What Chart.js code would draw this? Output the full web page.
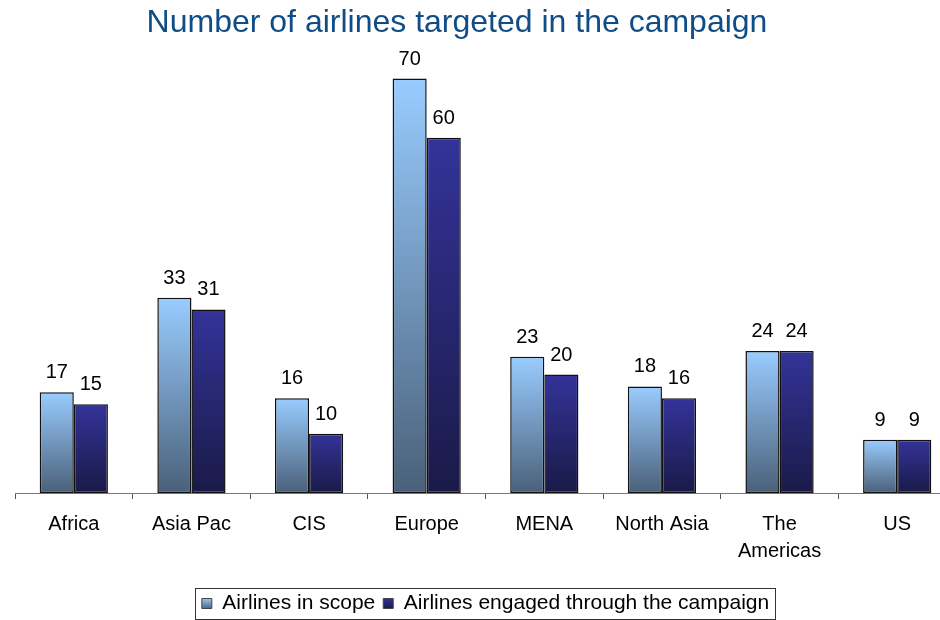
<!DOCTYPE html>
<html>
<head>
<meta charset="utf-8">
<script src="https://cdn.jsdelivr.net/npm/chart.js@4.4.1/dist/chart.umd.min.js"></script>
<style>
  html, body { margin: 0; padding: 0; background: #fff; overflow: hidden; }
  #wrap { width: 960px; height: 620px; }
</style>
</head>
<body>
<div id="wrap"><canvas id="airlinesChart" width="960" height="620"></canvas></div>
<script>
// --- Data ---
const regions = ['Africa', 'Asia Pac', 'CIS', 'Europe', 'MENA', 'North Asia', ['The', 'Americas'], 'US'];
const inScope = [17, 33, 16, 70, 23, 18, 24, 9];
const engaged = [15, 31, 10, 60, 20, 16, 24, 9];
const seriesNames = ['Airlines in scope', 'Airlines engaged through the campaign'];
const chartTitle = 'Number of airlines targeted in the campaign';

const FONT = '"Liberation Sans", Arial, sans-serif';
const seriesColors = [['#99CCFF', '#4A6079'], ['#333399', '#1A1A48']];

// per-bar vertical gradient (top colour -> bottom colour)
function barGradient(top, bottom) {
    return function(ctx) {
        const chart = ctx.chart;
        const area = chart.chartArea;
        const y = chart.scales && chart.scales.y;
        if (!area || !y || ctx.raw === undefined) return top;
        const yTop = y.getPixelForValue(ctx.raw);
        const g = chart.ctx.createLinearGradient(0, yTop, 0, area.bottom);
        g.addColorStop(0, top);
        g.addColorStop(1, bottom);
        return g;
    };
}

// heading, drawn in the space kept free by layout.padding.top
const heading = {
    id: 'heading',
    afterDraw(chart) {
        const ctx = chart.ctx;
        ctx.save();
        ctx.font = '32px ' + FONT;
        ctx.fillStyle = '#104C86';
        ctx.textAlign = 'center';
        ctx.textBaseline = 'middle';
        ctx.fillText(chartTitle, 457, 23);
        ctx.restore();
    }
};

// value labels above each bar
const valueLabels = {
    id: 'valueLabels',
    afterDatasetsDraw(chart) {
        const ctx = chart.ctx;
        ctx.save();
        ctx.font = '20px ' + FONT;
        ctx.fillStyle = '#000';
        ctx.textAlign = 'center';
        ctx.textBaseline = 'alphabetic';
        chart.data.datasets.forEach((ds, i) => {
            chart.getDatasetMeta(i).data.forEach((bar, j) => {
                ctx.fillText(String(ds.data[j]), bar.x, bar.y - 14);
            });
        });
        ctx.restore();
    }
};

// thin frame round the legend
const legendFrame = {
    id: 'legendFrame',
    afterDraw(chart) {
        const boxes = chart.legend && chart.legend.legendHitBoxes;
        if (!boxes || !boxes.length) return;
        const first = boxes[0], last = boxes[boxes.length - 1];
        const left = first.left - 7;
        const right = last.left + last.width + 6;
        const top = first.top - 5;
        const bottom = first.top + first.height + 5;
        const ctx = chart.ctx;
        ctx.save();
        ctx.strokeStyle = '#333';
        ctx.lineWidth = 1;
        ctx.strokeRect(Math.round(left) + 0.5, Math.round(top) + 0.5, Math.round(right - left), Math.round(bottom - top));
        ctx.restore();
    }
};

// small gradient swatch for the legend boxes
function swatch(chart, colors) {
    const g = chart.ctx.createLinearGradient(0, 598, 0, 609);
    g.addColorStop(0, colors[0]);
    g.addColorStop(1, colors[1]);
    return g;
}

new Chart(document.getElementById('airlinesChart'), {
    type: 'bar',
    data: {
        labels: regions,
        datasets: [
            {
                label: seriesNames[0],
                data: inScope,
                backgroundColor: barGradient(seriesColors[0][0], seriesColors[0][1]),
                borderColor: '#111',
                borderWidth: 1.5,
                borderSkipped: false
            },
            {
                label: seriesNames[1],
                data: engaged,
                backgroundColor: barGradient(seriesColors[1][0], seriesColors[1][1]),
                borderColor: '#111',
                borderWidth: 1.5,
                borderSkipped: false
            }
        ]
    },
    options: {
        responsive: false,
        animation: false,
        layout: { padding: { left: 15, right: 4, top: 49, bottom: -4 } },
        datasets: { bar: { barPercentage: 1, categoryPercentage: 0.58 } },
        plugins: {
            title: { display: false },
            legend: {
                position: 'bottom',
                labels: {
                    color: '#000',
                    font: { family: FONT, size: 21 },
                    boxWidth: 10,
                    boxHeight: 10,
                    padding: 8,
                    generateLabels: chart => chart.data.datasets.map((ds, i) => ({
                        text: ds.label,
                        fillStyle: swatch(chart, seriesColors[i]),
                        strokeStyle: '#444',
                        lineWidth: 1,
                        hidden: false,
                        datasetIndex: i
                    }))
                }
            },
            tooltip: { enabled: false }
        },
        scales: {
            x: {
                afterFit: scale => { scale.height = 92; },
                grid: { display: true, drawOnChartArea: false, drawTicks: true, tickLength: 6, color: '#555', offset: true },
                border: { display: true, color: '#777', width: 1 },
                ticks: {
                    color: '#000',
                    padding: 12,
                    maxRotation: 0,
                    autoSkip: false,
                    font: { family: FONT, size: 20, lineHeight: 1.35 }
                }
            },
            y: {
                display: false,
                min: 0,
                max: 75
            }
        }
    },
    plugins: [valueLabels, legendFrame, heading]
});
</script>
</body>
</html>
